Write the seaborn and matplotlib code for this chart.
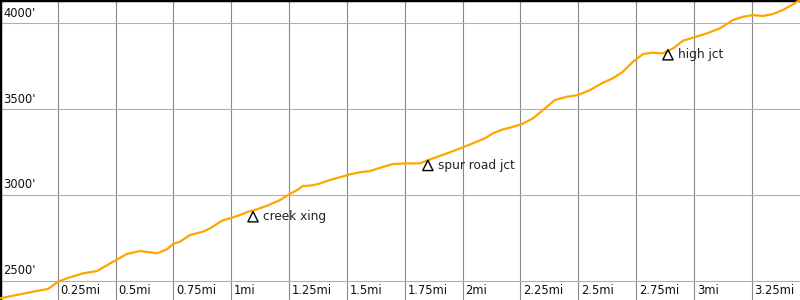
import matplotlib
matplotlib.use("Agg")
import matplotlib.pyplot as plt
import seaborn as sns
import pandas as pd

# Elevation profile (miles, feet)
distance_mi = [0.000, 0.073, 0.143, 0.208, 0.251, 0.290, 0.359, 0.419, 0.489, 0.549,
               0.605, 0.679, 0.722, 0.748, 0.778, 0.821, 0.878, 0.908, 0.960, 1.007,
               1.038, 1.072, 1.111, 1.154, 1.211, 1.245, 1.284, 1.310, 1.340, 1.375,
               1.427, 1.470, 1.513, 1.556, 1.600, 1.643, 1.699, 1.760, 1.816, 1.859,
               1.933, 1.989, 2.045, 2.097, 2.131, 2.175, 2.218, 2.257, 2.304, 2.348,
               2.399, 2.451, 2.499, 2.551, 2.607, 2.650, 2.693, 2.737, 2.780, 2.819,
               2.866, 2.910, 2.953, 2.996, 3.057, 3.113, 3.169, 3.212, 3.256, 3.299,
               3.342, 3.385, 3.424, 3.459]
elevation_ft = [2397, 2417, 2436, 2452, 2494, 2514, 2543, 2556, 2611, 2656,
                2673, 2660, 2683, 2714, 2727, 2766, 2786, 2805, 2850, 2869,
                2883, 2902, 2916, 2937, 2970, 2999, 3028, 3052, 3054, 3063,
                3087, 3103, 3120, 3132, 3139, 3158, 3180, 3184, 3184, 3207,
                3242, 3271, 3301, 3330, 3359, 3382, 3397, 3413, 3446, 3495,
                3553, 3572, 3582, 3611, 3654, 3680, 3718, 3776, 3821, 3829,
                3825, 3854, 3899, 3916, 3942, 3971, 4019, 4038, 4048, 4043,
                4054, 4078, 4107, 4136]

# Landmarks
landmark_names = ["creek xing", "spur road jct", "high jct"]
landmark_mi = [1.094, 1.850, 2.888]
landmark_ft = [2873, 3172, 3817]

# Axis ticks
x_ticks = [0.25, 0.5, 0.75, 1.0, 1.25, 1.5, 1.75, 2.0, 2.25, 2.5, 2.75, 3.0, 3.25]
x_labels = ["0.25mi", "0.5mi", "0.75mi", "1mi", "1.25mi", "1.5mi", "1.75mi",
            "2mi", "2.25mi", "2.5mi", "2.75mi", "3mi", "3.25mi"]
y_ticks = [2500, 3000, 3500, 4000]
y_labels = ["2500'", "3000'", "3500'", "4000'"]

sns.set_style("white")
plt.rcParams["font.family"] = ["DejaVu Sans"]

fig = plt.figure(figsize=(8, 3), dpi=100)
ax = fig.add_axes([0, 0, 1, 1])

profile = pd.DataFrame({"mi": distance_mi, "ft": elevation_ft})
sns.lineplot(data=profile, x="mi", y="ft", color="#FFA500", linewidth=1.6,
             sort=False, ax=ax, zorder=3)

marks = pd.DataFrame({"mi": landmark_mi, "ft": landmark_ft, "name": landmark_names})
sns.scatterplot(data=marks, x="mi", y="ft", marker="^", s=55, facecolors="none",
                edgecolor="black", linewidth=1.0, ax=ax, zorder=4)
for name, xm, ym in zip(landmark_names, landmark_mi, landmark_ft):
    ax.annotate(name, (xm, ym), xytext=(7.5, 0), textcoords="offset points",
                va="center", ha="left", fontsize=8.7, color="#222222", zorder=5)

ax.set_xlim(0, 3.459)
ax.set_ylim(2387.5, 4136)
ax.set_xticks(x_ticks)
ax.set_yticks(y_ticks)
ax.xaxis.grid(True, color="#888888", linewidth=0.8)
ax.yaxis.grid(True, color="#b0b0b0", linewidth=0.8)
ax.tick_params(length=0, labelbottom=False, labelleft=False)
ax.set_xlabel("")
ax.set_ylabel("")

for xt, lab in zip(x_ticks, x_labels):
    ax.annotate(lab, (xt, 0), xycoords=("data", "axes fraction"),
                xytext=(2.0, 2.5), textcoords="offset points",
                ha="left", va="bottom", fontsize=8.3, color="#111111")
for yt, lab in zip(y_ticks, y_labels):
    ax.annotate(lab, (0, yt), xycoords=("axes fraction", "data"),
                xytext=(2.2, 2.5), textcoords="offset points",
                ha="left", va="bottom", fontsize=8.3, color="#111111")

for side in ["right", "bottom"]:
    ax.spines[side].set_visible(False)
for side in ["left", "top"]:
    ax.spines[side].set_visible(True)
    ax.spines[side].set_color("black")
    ax.spines[side].set_linewidth(2.5)

fig.savefig("out.png", dpi=100)
